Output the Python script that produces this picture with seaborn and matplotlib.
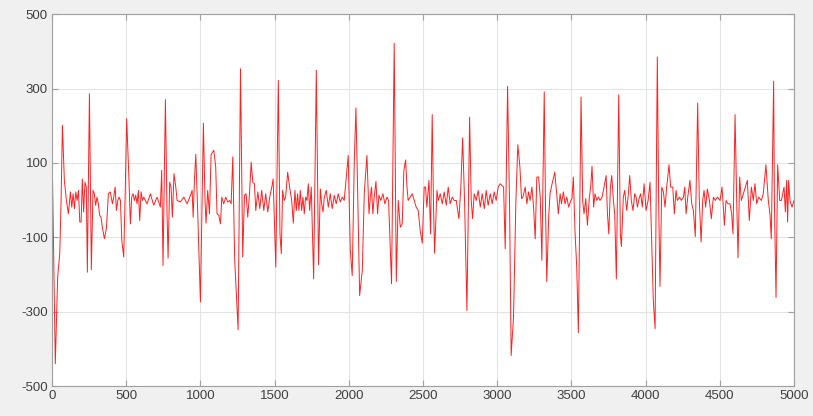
import numpy as np
import pandas as pd
import seaborn as sns
import matplotlib.pyplot as plt

# sample index / amplitude
sample = [
    0, 22, 38, 52, 61, 70, 83, 97, 110, 124, 133, 142, 151, 160, 169, 178, 187, 196,
    204, 213, 222, 231, 238, 252, 265, 276, 285, 294, 303, 312, 321, 330, 339, 353,
    366, 380, 393, 407, 416, 425, 434, 443, 452, 461, 470, 483, 492, 503, 517, 528,
    537, 546, 555, 564, 573, 582, 591, 600, 609, 618, 640, 663, 685, 708, 730, 739,
    748, 764, 775, 782, 793, 802, 811, 822, 834, 843, 865, 888, 910, 933, 944, 951,
    960, 969, 982, 1000, 1020, 1031, 1038, 1049, 1061, 1072, 1090, 1103, 1112, 1124,
    1135, 1144, 1157, 1171, 1184, 1198, 1207, 1218, 1231, 1254, 1270, 1285, 1297,
    1308, 1319, 1330, 1342, 1353, 1364, 1373, 1387, 1400, 1413, 1427, 1440, 1454,
    1467, 1481, 1490, 1508,
    1525, 1536, 1545, 1554, 1565, 1574, 1588, 1601, 1615, 1626, 1637, 1646, 1655,
    1664, 1673, 1682, 1691, 1700, 1709, 1718, 1727, 1736, 1747, 1763, 1781, 1796,
    1808, 1817, 1826, 1835, 1848, 1862, 1875, 1888, 1902, 1915, 1929, 1942, 1956,
    1969, 1983, 1996, 2010, 2023, 2037, 2048, 2059, 2073, 2091, 2104, 2122, 2136,
    2145, 2153, 2162, 2171, 2183, 2194, 2203, 2216, 2230, 2243, 2257, 2268, 2288,
    2306, 2320, 2333, 2347, 2360, 2371, 2383, 2392, 2400, 2414, 2427, 2441, 2454,
    2468, 2481, 2495, 2508, 2517, 2526, 2540, 2551, 2562, 2571, 2578, 2594, 2603,
    2616, 2630, 2643, 2657, 2670, 2683, 2697, 2710, 2724, 2742, 2755, 2767, 2780,
    2796, 2814, 2825, 2834, 2845, 2859, 2872, 2886, 2899, 2913, 2926, 2939, 2953,
    2966, 2980, 2993, 3007, 3020, 3043, 3054, 3070, 3083, 3094, 3110, 3126, 3139,
    3153, 3164, 3173, 3189, 3200, 3211, 3222, 3234, 3245, 3256, 3267, 3279, 3290,
    3301, 3317,
    3325, 3334, 3347, 3356, 3370, 3388, 3401, 3412, 3424, 3433, 3446, 3457, 3469,
    3482, 3496, 3504, 3513, 3525, 3536, 3547, 3565, 3576, 3585, 3597, 3608, 3621,
    3630, 3639, 3650, 3659, 3671, 3682, 3693, 3707, 3720, 3734, 3743, 3752, 3763,
    3772, 3783, 3792, 3803, 3819, 3830, 3837, 3850, 3859, 3873, 3884, 3893, 3904,
    3915, 3927, 3936, 3945, 3956, 3967, 3978, 3990, 4003, 4017, 4030, 4041, 4052,
    4064, 4079, 4088, 4097, 4109, 4120, 4131, 4142, 4158, 4169, 4183, 4194, 4205,
    4214, 4228, 4241, 4255, 4264, 4273, 4284, 4299, 4311, 4322, 4335, 4351, 4362,
    4374, 4385, 4394, 4405, 4416, 4430, 4443, 4457, 4470, 4484, 4502, 4515, 4524,
    4531, 4542, 4555, 4569, 4580, 4589, 4603, 4614, 4623, 4634, 4645, 4659, 4672,
    4686, 4699, 4713, 4726, 4737, 4749, 4762, 4780, 4793, 4811, 4827, 4838, 4847,
    4863, 4868, 4879, 4890, 4904, 4915, 4924, 4933, 4942, 4951, 4957, 4964, 4973,
    4987, 5000,
]
amplitude = [
    143, -440, -207, -144, 0, 201, 53, -1, -37, 22, -19, 17, -23, 22, -1, 26, -59, -59,
    57, -32, 48, 35, -194, 286, -187, 26, 17, -14, 8, -10, -41, -46, -73, -104,
    -77, 17, 22, -10, 8, 35, -28, -1, 8, -1, -108, -153, -1, 219, 71, -64,
    8, 17, -1, 13, -10, 26, -55, 22, -1, 8, -10, 17, -14, 8, -19, 80,
    -176, 270, -37, -156, 48, 35, -46, 71, 35, -1, -5, 8, -10, 13, 26, -46,
    57, 123, -37, -274, 207, -1, -62, 26, -37, 123, 134, 89, -37, -41,
    -64, 8, -10, 8, -5, -1, -10, 116, -162, -349, 353, -153, 13,
    17, -46, 13, 102, 48, 44, -28, 22, -23, 26, -28, 17, -32,
    8, 35, 57, -180,
    322, -91, -144, 26, -1, 8, 75, 35, -1, -62, 26, -28, 17,
    -28, 26, -28, 8, -37, 8, -1, 44, -28, 35, -212, 349, -174,
    30, -10, -32, 8, 26, -19, 17, -23, 13, -10, 17, -5, 8,
    -1, 62, 120, -135, -203, 107, 248, 35, -257, -189, 17, 120, -37,
    8, 35, -37, 8, 50, -37, 13, -1, 17, -10, 8, -1, -225,
    422, -219, -1, -73, -64, 80, 108, 35, -1, 8, 17, -1, -19,
    -28, -82, -116, 35, 35, -19, 53, -91, 230, -19, -143, 26, -1,
    17, -10, 22, -14, 35, -10, 8, -1, -1, -50, 35, 167, -1,
    -297, 223, -1, -50, 17, -1, 26, -19, 17, -23, 26, -14, 17,
    -10, 22, -1, 35, 44, 35, -131, 306, -1, -418, -315, -1, 149,
    89, 4, 8, 35, -10, 22, -1, 35, -19, -104, 62, 62, 8,
    -162, 291,
    -1, -219, -46, 17, 44, 75, 17, -37, 17, -10, 22, -10, 8,
    -19, -1, 4, 62, -91, -180, -357, 277, -1, -37, 4, -68, 8,
    35, 91, -19, 17, -1, 8, -1, 8, 35, 66, -37, -91, 35,
    66, -1, -37, -212, 283, -91, -125, 8, 26, -28, 17, 66, -1,
    -28, 17, 8, -19, 4, 17, -19, 44, -28, -1, 48, -108, -270,
    -346, 385, -1, -232, 35, 22, -19, 35, 95, 35, 35, -37, 26,
    -1, 8, -1, 8, 35, -37, 8, 53, -10, -28, -98, 261, -1,
    -113, -1, 26, -19, 30, -1, -50, 8, -1, 8, -1, 35, -19,
    -68, -1, -10, -10, -37, -91, 230, -1, -155, 62, -1, 17, 35,
    53, -55, 35, -1, 44, -10, 8, -1, 17, 95, -1, -37, -104,
    320, -1, -262, 95, -1, -1, 17, 35, -32, 53, -59, 53, -1,
    -19, -1,
]

x_ticks = np.arange(0, 5001, 500)
y_ticks = [-500, -300, -100, 100, 300, 500]

df = pd.DataFrame({'sample': sample, 'amplitude': amplitude})

sns.set_style('whitegrid')
plt.rcParams['font.family'] = ['Liberation Sans', 'DejaVu Sans']
plt.rcParams['axes.unicode_minus'] = False

fig = plt.figure(figsize=(8.13, 4.16), dpi=100, facecolor='#f0f0f0')
ax = fig.add_axes([0.064, 0.072, 0.9126, 0.894])
sns.lineplot(data=df, x='sample', y='amplitude', sort=False, estimator=None,
             color='#ff2020', linewidth=0.7, ax=ax)

ax.set_xlim(0, 5000)
ax.set_ylim(-500, 500)
ax.set_xticks(x_ticks)
ax.set_yticks(y_ticks)
ax.set_xlabel('')
ax.set_ylabel('')
ax.grid(True, color='#e3e3e3', linewidth=0.8)
for side in ax.spines.values():
    side.set_visible(True)
    side.set_color('#a0a0a0')
    side.set_linewidth(0.8)
ax.tick_params(direction='in', bottom=True, left=True, top=True, right=True,
               length=4, width=0.8, color='#a0a0a0', labelsize=9.5,
               labelcolor='#404040', pad=3)

plt.savefig('out.png', dpi=100, facecolor=fig.get_facecolor())
